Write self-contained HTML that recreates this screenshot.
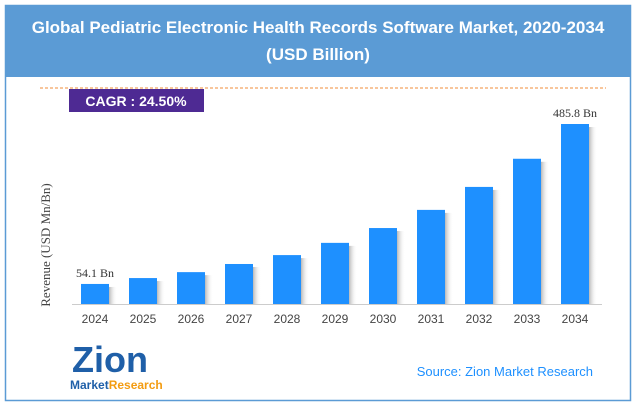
<!DOCTYPE html>
<html><head><meta charset="utf-8"><style>
body{margin:0;width:636px;height:406px;background:#fff;font-family:"Liberation Sans",sans-serif;overflow:hidden}
</style></head><body>
<svg width="636" height="406" xmlns="http://www.w3.org/2000/svg">
<defs><linearGradient id="sh" x1="0" x2="1"><stop offset="0" stop-color="#999" stop-opacity="0.7"/><stop offset="1" stop-color="#fff" stop-opacity="0"/></linearGradient></defs>
<rect x="5.5" y="5.5" width="625" height="395" fill="#fff" stroke="#5b9bd5" stroke-width="1.5"/>
<rect x="6" y="6" width="624" height="71" fill="#5b9bd5"/>
<text x="318" y="33" text-anchor="middle" fill="#fff" font-size="17" font-weight="bold">Global Pediatric Electronic Health Records Software Market, 2020-2034</text>
<text x="318" y="60" text-anchor="middle" fill="#fff" font-size="17" font-weight="bold">(USD Billion)</text>
<line x1="40" y1="88" x2="606" y2="88" stroke="#f4a460" stroke-width="1.2" stroke-dasharray="3,2"/>
<rect x="69" y="89" width="135" height="23" fill="#4e2a93"/>
<text x="136" y="106" text-anchor="middle" fill="#fff" font-size="14" font-weight="bold">CAGR : 24.50%</text>
<text transform="translate(50,245) rotate(-90)" text-anchor="middle" fill="#444" font-size="13" font-family="Liberation Serif,serif">Revenue (USD Mn/Bn)</text>
<g id="bars"></g>
<line x1="72" y1="304.5" x2="602" y2="304.5" stroke="#ccc"/>
<text x="72" y="372" fill="#1f5fa8" font-size="36" font-weight="bold">Zion</text>
<text x="70" y="389" fill="#1f5fa8" font-size="12" font-weight="bold">Market<tspan fill="#f39c12">Research</tspan></text>
<text x="593" y="376" text-anchor="end" fill="#1e90ff" font-size="13">Source: Zion Market Research</text>
</svg>
<script>
const categories=["2024","2025","2026","2027","2028","2029","2030","2031","2032","2033","2034"];
const values=[54.1,70,86,108,132,165,205,254,316,392,485.8];
const labels={0:"54.1 Bn",10:"485.8 Bn"};
const g=document.getElementById('bars');
const NS="http://www.w3.org/2000/svg";
function x(i){return 95+i*48;}
function y(v){return 304-v*180/485.8;}
categories.forEach((c,i)=>{
  const sh=document.createElementNS(NS,'rect');
  sh.setAttribute('x',x(i)+14);sh.setAttribute('y',y(values[i])+3);sh.setAttribute('width',8);sh.setAttribute('height',304-y(values[i])-3);sh.setAttribute('fill','url(#sh)');
  
  
  g.appendChild(sh);
  const r=document.createElementNS(NS,'rect');
  r.setAttribute('x',x(i)-14);r.setAttribute('y',y(values[i]));r.setAttribute('width',28);r.setAttribute('height',304-y(values[i]));r.setAttribute('fill','#1e90ff');
  
  
  g.appendChild(r);
  const t=document.createElementNS(NS,'text');
  t.setAttribute('x',x(i));t.setAttribute('y',323);t.setAttribute('text-anchor','middle');t.setAttribute('font-size','12');t.setAttribute('fill','#444');
  t.textContent=c;
  
  
  g.appendChild(t);
  if(labels[i]){
    const l=document.createElementNS(NS,'text');
    l.setAttribute('x',x(i));l.setAttribute('y',y(values[i])-7);l.setAttribute('text-anchor','middle');l.setAttribute('font-size','12');l.setAttribute('fill','#333');l.setAttribute('font-family','Liberation Serif,serif');
    l.textContent=labels[i];
    
    
    g.appendChild(l);
  }
});
</script>
</body></html>
